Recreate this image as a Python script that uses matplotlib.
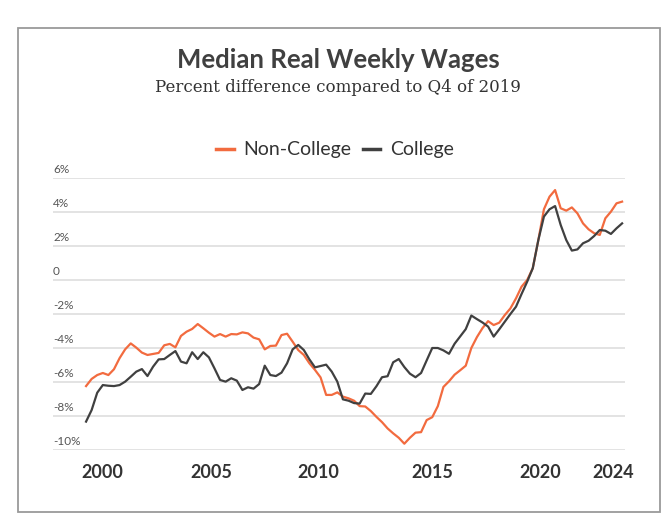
import numpy as np
import matplotlib.pyplot as plt
from matplotlib.patches import Rectangle
from matplotlib.lines import Line2D

# quarterly series, 2000Q1 .. 2024Q1, % difference vs Q4 2019
start_year = 2000
non_college = [
    -6.24, -5.82, -5.59, -5.47, -5.59, -5.25, -4.60, -4.08, -3.73, -3.98,
    -4.27, -4.41, -4.35, -4.29, -3.84, -3.76, -3.96, -3.29, -3.04, -2.88,
    -2.59, -2.84, -3.10, -3.33, -3.18, -3.33, -3.18, -3.20, -3.08, -3.14,
    -3.39, -3.49, -4.08, -3.88, -3.86, -3.24, -3.16, -3.63, -4.12, -4.41,
    -4.90, -5.29, -5.73, -6.76, -6.76, -6.61, -6.86, -6.96, -7.10, -7.42,
    -7.44, -7.71, -8.05, -8.36, -8.73, -9.02, -9.28, -9.63, -9.28, -8.98,
    -8.95, -8.24, -8.07, -7.42, -6.29, -5.96, -5.57, -5.31, -5.04, -4.00,
    -3.36, -2.83, -2.42, -2.65, -2.51, -2.06, -1.67, -1.08, -0.39, 0.00,
    0.69, 2.35, 4.16, 4.90, 5.29, 4.22, 4.08, 4.27, 3.92, 3.33,
    2.98, 2.75, 2.65, 3.63, 4.02, 4.51, 4.61,
]
college = [
    -8.33, -7.65, -6.63, -6.18, -6.22, -6.24, -6.18, -5.98, -5.69, -5.39,
    -5.24, -5.65, -5.10, -4.67, -4.65, -4.41, -4.18, -4.80, -4.90, -4.25,
    -4.65, -4.25, -4.55, -5.20, -5.88, -5.98, -5.78, -5.92, -6.47, -6.31,
    -6.39, -6.12, -5.04, -5.59, -5.65, -5.45, -4.90, -4.08, -3.82, -4.12,
    -4.67, -5.14, -5.06, -4.98, -5.39, -5.98, -7.02, -7.10, -7.24, -7.27,
    -6.68, -6.70, -6.25, -5.72, -5.66, -4.84, -4.65, -5.12, -5.51, -5.72,
    -5.47, -4.73, -4.00, -4.00, -4.14, -4.34, -3.75, -3.32, -2.89, -2.09,
    -2.30, -2.50, -2.74, -3.33, -2.90, -2.45, -2.00, -1.57, -0.82, -0.10,
    0.69, 2.35, 3.73, 4.16, 4.35, 3.24, 2.35, 1.73, 1.80, 2.16,
    2.31, 2.59, 2.94, 2.90, 2.71, 3.04, 3.33,
]
y_ticks = [6, 4, 2, 0, -2, -4, -6, -8, -10]
y_labels = ["6%", "4%", "2%", "0", "-2%", "-4%", "-6%", "-8%", "-10%"]
x_labels = ["2000", "2005", "2010", "2015", "2020", "2024"]
x_label_pos = [2000.75, 2005.6, 2010.4, 2015.5, 2020.35, 2023.6]

ORANGE = "#f26b3f"
DARK = "#404040"

t = start_year + np.arange(len(non_college)) / 4.0

fig = plt.figure(figsize=(6.7, 5.17), dpi=100)
ax = fig.add_axes([53 / 670, 67 / 517, 572 / 670, 272 / 517])

# outer frame
fig.patches.append(Rectangle((18 / 670, 5 / 517), 642 / 670, 484 / 517,
                             transform=fig.transFigure, fill=False,
                             edgecolor="#9a9a9a", linewidth=1.3))

for v, lab in zip(y_ticks, y_labels):
    ax.axhline(v, color="#e3e3e3", linewidth=1.4, zorder=0)
    ax.text(0, v + 0.15, lab, transform=ax.get_yaxis_transform(),
            ha="left", va="bottom", fontsize=8.5, color="#555555", family="Lato")

ax.plot(t, non_college, color=ORANGE, linewidth=1.6, clip_on=False)
ax.plot(t, college, color=DARK, linewidth=1.6, clip_on=False)

ax.set_xlim(1998.52, 2024.13)
ax.set_ylim(-10, 6)
ax.set_yticks([])
ax.set_xticks(x_label_pos)
ax.set_xticklabels(x_labels, fontsize=13, fontweight="bold", color="#333333",
                   family="Lato")
ax.tick_params(axis="x", length=0, pad=10)
for s in ax.spines.values():
    s.set_visible(False)

fig.text(0.505, 1 - 60 / 517, "Median Real Weekly Wages", ha="center", va="center",
         fontsize=18.5, fontweight="bold", color="#404040", family="Lato")
fig.text(0.505, 1 - 87 / 517, "Percent difference compared to Q4 of 2019",
         ha="center", va="center", fontsize=12, color="#333333",
         family="DejaVu Serif")

handles = [Line2D([], [], color=ORANGE, linewidth=2.5),
           Line2D([], [], color=DARK, linewidth=2.5)]
fig.legend(handles, ["Non-College", "College"], loc="center",
           bbox_to_anchor=(335 / 670, 1 - 150 / 517), ncol=2, frameon=False,
           prop={"family": "Lato", "size": 14}, handlelength=0.9,
           handletextpad=0.5, columnspacing=0.6, labelcolor="#333333")

fig.savefig("out.png", dpi=100)
